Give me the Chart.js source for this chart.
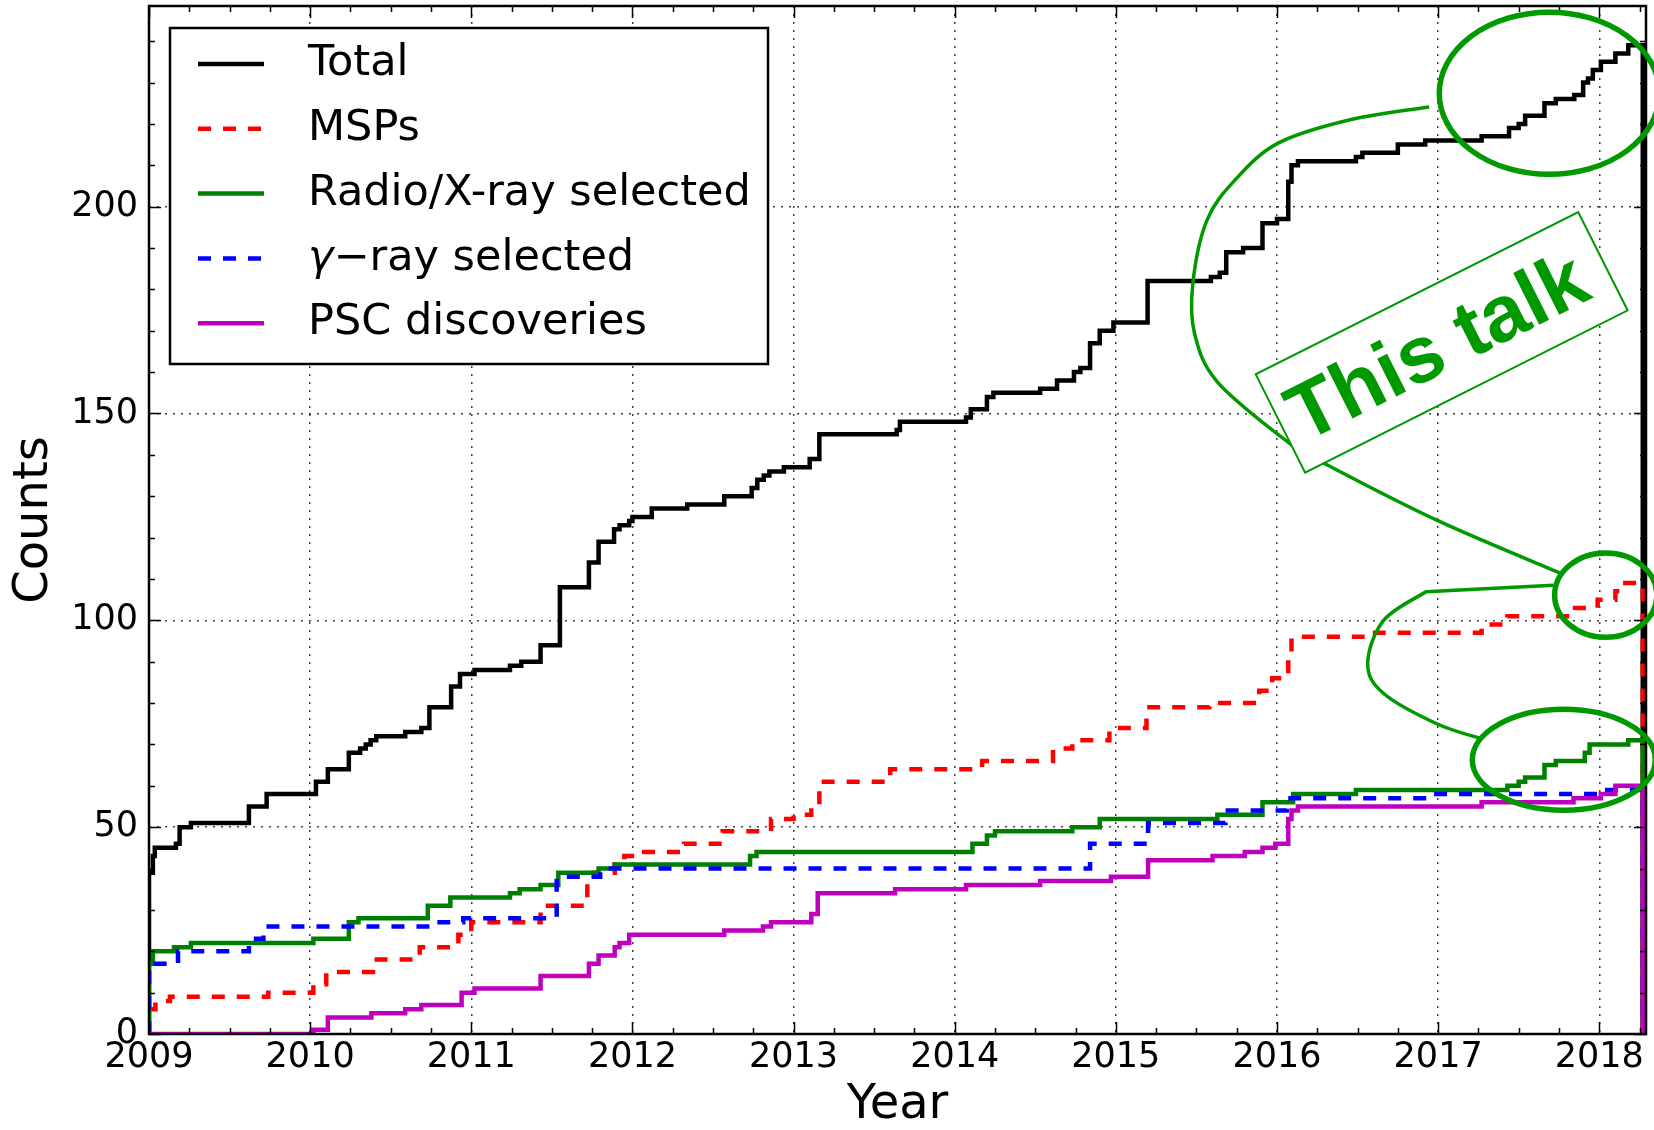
<!DOCTYPE html>
<html>
<head>
<meta charset="utf-8">
<title>Counts per year</title>
<script src="https://cdn.jsdelivr.net/npm/chart.js"></script>
<style>
  html, body { margin: 0; padding: 0; background: #fff; overflow: hidden; }
  #wrap { width: 1654px; height: 1130px; position: relative; }
</style>
</head>
<body>
<div id="wrap"><canvas id="countsChart"></canvas></div>
<script>
// step data: year of each step and the count after it
const totalYears = [2009.0, 2009.024, 2009.036, 2009.167, 2009.19, 2009.26, 2009.62, 2009.73, 2010.036, 2010.11,
  2010.24, 2010.31, 2010.345, 2010.375, 2010.41, 2010.59, 2010.69, 2010.74, 2010.875, 2010.93,
  2011.02, 2011.24, 2011.31, 2011.43, 2011.55, 2011.73, 2011.79, 2011.886, 2011.92, 2011.98,
  2012.0, 2012.12, 2012.34, 2012.57, 2012.74, 2012.775, 2012.815, 2012.85, 2012.94, 2013.1,
  2013.16, 2013.64, 2013.66, 2014.07, 2014.1, 2014.2, 2014.24, 2014.53, 2014.635, 2014.74,
  2014.78, 2014.84, 2014.9, 2014.985, 2015.197, 2015.59, 2015.645, 2015.685, 2015.79, 2015.91,
  2016.0, 2016.07, 2016.09, 2016.13, 2016.49, 2016.53, 2016.75, 2016.92, 2017.27, 2017.44,
  2017.5, 2017.54, 2017.66, 2017.73, 2017.845, 2017.9, 2017.93, 2017.96, 2018.01, 2018.1, 2018.18];
const totalCounts = [39, 43, 45, 46, 50, 51, 55, 58, 61, 64,
  68, 69, 70, 71, 72, 73, 74, 79, 84, 87,
  88, 89, 90, 94, 108, 114, 119, 122, 123, 124,
  125, 127, 128, 130, 132, 134, 135, 136, 137, 139,
  145, 146, 148, 149, 151, 154, 155, 156, 158, 160,
  161, 167, 170, 172, 182, 183, 184, 189, 190, 196,
  197, 206, 210, 211, 212, 213, 215, 216, 217, 219,
  220, 222, 225, 226, 227, 230, 231, 233, 235, 237, 239];

const mspYears = [2009.0, 2009.04, 2009.13, 2009.74, 2010.02, 2010.1, 2010.39, 2010.68, 2010.92, 2011.0,
  2011.43, 2011.72, 2011.76, 2011.89, 2011.95, 2012.04, 2012.32, 2012.56, 2012.86, 2013.0,
  2013.11, 2013.16, 2013.6, 2014.17, 2014.61, 2014.73, 2014.96, 2015.19, 2015.58, 2015.89,
  2015.97, 2016.07, 2016.09, 2016.53, 2017.27, 2017.43, 2017.85, 2017.99, 2018.1, 2018.14];
const mspCounts = [6, 8, 9, 10, 12, 15, 18, 21, 24, 27,
  31, 37, 39, 41, 43, 44, 46, 49, 52, 53,
  55, 61, 64, 66, 69, 71, 74, 79, 80, 83,
  86, 92, 96, 97, 99, 101, 103, 105, 107, 109];

const radioYears = [2009.0, 2009.024, 2009.155, 2009.26, 2010.02, 2010.24, 2010.3, 2010.73, 2010.87, 2011.24,
  2011.3, 2011.43, 2011.54, 2011.79, 2011.89, 2012.73, 2012.77, 2014.11, 2014.2, 2014.25,
  2014.73, 2014.9, 2015.63, 2015.91, 2016.1, 2016.49, 2017.43, 2017.5, 2017.54, 2017.66,
  2017.73, 2017.91, 2017.94, 2018.18];
const radioCounts = [17, 20, 21, 22, 23, 27, 28, 31, 33, 34,
  35, 36, 39, 40, 41, 43, 44, 46, 48, 49,
  50, 52, 53, 56, 58, 59, 60, 61, 62, 65,
  66, 68, 70, 71];

const gammaYears = [2009.0, 2009.18, 2009.62, 2009.71, 2010.78, 2010.95, 2011.53, 2011.8, 2014.84, 2015.2,
  2015.68, 2016.06, 2016.95, 2018.02];
const gammaCounts = [17, 20, 23, 26, 27, 28, 38, 40, 46, 51,
  54, 57, 58, 59];

const pscYears = [2009.0, 2010.02, 2010.11, 2010.38, 2010.59, 2010.69, 2010.94, 2011.02, 2011.43, 2011.73,
  2011.79, 2011.89, 2011.92, 2011.98, 2012.57, 2012.81, 2012.86, 2013.11, 2013.15, 2013.63,
  2014.07, 2014.53, 2014.97, 2015.2, 2015.6, 2015.8, 2015.91, 2015.99, 2016.07, 2016.09,
  2016.13, 2017.27, 2017.84, 2018.01, 2018.1];
const pscCounts = [0, 1, 4, 5, 6, 7, 10, 11, 14, 17,
  19, 21, 22, 24, 25, 26, 27, 29, 34, 35,
  36, 37, 38, 42, 43, 44, 45, 46, 52, 54,
  55, 56, 57, 58, 60];

const seriesLabels = ["Total", "MSPs", "Radio/X-ray selected", "γ−ray selected", "PSC discoveries"];
const yearTicks = [2009, 2010, 2011, 2012, 2013, 2014, 2015, 2016, 2017, 2018];
const countTicks = [0, 50, 100, 150, 200];

const START_YEAR = 2009;
const END_YEAR = 2018.27; // histogram closes back to zero here
const X_MAX = 2018.29;
const Y_MAX = 248.5;

// cumulative step histogram: start at 0, hold the last count, drop back to 0
function stepPoints(years, counts) {
  const pts = [{ x: START_YEAR, y: 0 }];
  years.forEach((yr, i) => pts.push({ x: yr, y: counts[i] }));
  pts.push({ x: END_YEAR, y: counts[counts.length - 1] });
  pts.push({ x: END_YEAR, y: 0 });
  return pts;
}

const DASH = [13, 12];
const FONT = "'DejaVu Sans', 'Liberation Sans', sans-serif";
const NOTE_GREEN = "#009900";

// spines and inward ticks on all four sides, like the matplotlib frame
const frameAndTicks = {
  id: "frameAndTicks",
  afterDatasetsDraw(chart) {
    const { ctx, chartArea: a, scales } = chart;
    const x = scales.x, y = scales.y;
    ctx.save();
    ctx.strokeStyle = "#000";
    ctx.lineWidth = 1.5;
    ctx.beginPath();
    for (let v = START_YEAR; v <= X_MAX + 1e-9; v += 0.25) {
      const px = Math.round(x.getPixelForValue(v)) + 0.5;
      const len = Math.abs(v - Math.round(v)) < 1e-6 ? 12 : 6;
      ctx.moveTo(px, a.bottom); ctx.lineTo(px, a.bottom - len);
      ctx.moveTo(px, a.top); ctx.lineTo(px, a.top + len);
    }
    for (let v = 0; v <= Y_MAX; v += 10) {
      const py = Math.round(y.getPixelForValue(v)) + 0.5;
      const len = v % 50 === 0 ? 12 : 6;
      ctx.moveTo(a.left, py); ctx.lineTo(a.left + len, py);
      ctx.moveTo(a.right, py); ctx.lineTo(a.right - len, py);
    }
    ctx.stroke();
    ctx.lineWidth = 2.5;
    ctx.strokeRect(a.left, a.top, a.right - a.left, a.bottom - a.top);
    ctx.restore();
  }
};

// legend box in the upper left corner of the axes
const insideLegend = {
  id: "insideLegend",
  afterDraw(chart) {
    const { ctx } = chart;
    const box = { left: 170, top: 28, width: 598, height: 336 };
    ctx.save();
    ctx.fillStyle = "#fff";
    ctx.fillRect(box.left, box.top, box.width, box.height);
    ctx.strokeStyle = "#000";
    ctx.lineWidth = 2.5;
    ctx.strokeRect(box.left, box.top, box.width, box.height);
    ctx.font = "43px " + FONT;
    ctx.textBaseline = "middle";
    chart.data.datasets.forEach((ds, i) => {
      const rowY = box.top + 36 + i * 64.8;
      ctx.beginPath();
      ctx.strokeStyle = ds.borderColor;
      ctx.lineWidth = 4.5;
      ctx.setLineDash(ds.borderDash || []);
      ctx.moveTo(198, rowY);
      ctx.lineTo(264, rowY);
      ctx.stroke();
      ctx.setLineDash([]);
      ctx.fillStyle = "#000";
      let tx = 308;
      let label = ds.label;
      if (label.startsWith("γ")) {
        ctx.font = "italic 43px " + FONT;
        ctx.fillText("γ", tx, rowY);
        tx += ctx.measureText("γ").width;
        ctx.font = "43px " + FONT;
        label = label.slice(1);
      }
      ctx.fillText(label, tx, rowY);
    });
    ctx.restore();
  }
};

// the hand-drawn "This talk" callout, placed in data units
const noteEllipses = [
  { x: 2017.69, y: 227.4, rx: 0.683, ry: 19.6 },
  { x: 2018.04, y: 106.1, rx: 0.317, ry: 10.2 },
  { x: 2017.78, y: 66.3, rx: 0.568, ry: 12.2 }
];
const noteUpperCurve = [
  [2016.944, 224.1], [2016.441, 220.9], [2016.004, 215.3], [2015.739, 206.4], [2015.565, 196.7],
  [2015.478, 181.5], [2015.488, 169.4], [2015.631, 157.6], [2016.068, 143.1], [2016.29, 138.0],
  [2016.991, 124.2], [2017.758, 111.4]
];
const noteLowerCurve = [
  [2017.716, 108.5], [2016.925, 106.9], [2016.662, 100.0], [2016.563, 89.5], [2016.662, 82.3],
  [2016.991, 75.0], [2017.266, 71.4]
];
const noteBox = { x: 2017.022, y: 167.2, width: 361, height: 110, angle: -26.7 };

function smoothThrough(ctx, pts) {
  for (let i = 0; i < pts.length - 1; i++) {
    const p0 = pts[i - 1] || pts[i], p1 = pts[i], p2 = pts[i + 1], p3 = pts[i + 2] || p2;
    ctx.bezierCurveTo(
      p1.x + (p2.x - p0.x) / 6, p1.y + (p2.y - p0.y) / 6,
      p2.x - (p3.x - p1.x) / 6, p2.y - (p3.y - p1.y) / 6,
      p2.x, p2.y);
  }
}

const thisTalkNote = {
  id: "thisTalkNote",
  afterDraw(chart) {
    const { ctx, scales } = chart;
    const x = scales.x, y = scales.y;
    const toPx = (p) => ({ x: x.getPixelForValue(p[0]), y: y.getPixelForValue(p[1]) });
    ctx.save();
    ctx.strokeStyle = NOTE_GREEN;

    ctx.lineWidth = 5.5;
    noteEllipses.forEach((e) => {
      const cx = x.getPixelForValue(e.x), cy = y.getPixelForValue(e.y);
      const rx = Math.abs(x.getPixelForValue(e.x + e.rx) - cx);
      const ry = Math.abs(y.getPixelForValue(e.y + e.ry) - cy);
      ctx.beginPath();
      ctx.ellipse(cx, cy, rx, ry, 0, 0, Math.PI * 2);
      ctx.stroke();
    });

    ctx.lineWidth = 3.5;
    const up = noteUpperCurve.map(toPx);
    ctx.beginPath();
    ctx.moveTo(up[0].x, up[0].y);
    smoothThrough(ctx, up);
    ctx.stroke();

    const low = noteLowerCurve.map(toPx);
    ctx.beginPath();
    ctx.moveTo(low[0].x, low[0].y);
    ctx.lineTo(low[1].x, low[1].y);
    smoothThrough(ctx, low.slice(1));
    ctx.stroke();

    const bx = x.getPixelForValue(noteBox.x), by = y.getPixelForValue(noteBox.y);
    ctx.translate(bx, by);
    ctx.rotate(noteBox.angle * Math.PI / 180);
    ctx.fillStyle = "#fff";
    ctx.fillRect(-noteBox.width / 2, -noteBox.height / 2, noteBox.width, noteBox.height);
    ctx.lineWidth = 2;
    ctx.strokeRect(-noteBox.width / 2, -noteBox.height / 2, noteBox.width, noteBox.height);
    ctx.fillStyle = NOTE_GREEN;
    ctx.font = "bold 80px 'Liberation Sans', Arial, sans-serif";
    ctx.textAlign = "center";
    ctx.textBaseline = "middle";
    ctx.fillText("This talk", -6, 6);
    ctx.restore();
  }
};

document.addEventListener("DOMContentLoaded", function () {
  const ctx = document.getElementById("countsChart").getContext("2d");

  new Chart(ctx, {
    type: "line",
    data: {
      datasets: [
        { label: seriesLabels[0], data: stepPoints(totalYears, totalCounts), borderColor: "#000000", order: 5 },
        { label: seriesLabels[1], data: stepPoints(mspYears, mspCounts), borderColor: "#ff0000", borderDash: DASH, order: 4 },
        { label: seriesLabels[2], data: stepPoints(radioYears, radioCounts), borderColor: "#008000", order: 3 },
        { label: seriesLabels[3], data: stepPoints(gammaYears, gammaCounts), borderColor: "#0000ff", borderDash: DASH, order: 2 },
        { label: seriesLabels[4], data: stepPoints(pscYears, pscCounts), borderColor: "#bf00bf", order: 1 }
      ].map((ds) => Object.assign({
        stepped: true,
        fill: false,
        borderWidth: 4.5,
        pointRadius: 0,
        pointHoverRadius: 0,
        borderCapStyle: "butt",
        borderJoinStyle: "miter"
      }, ds))
    },
    options: {
      responsive: true,
      maintainAspectRatio: false,
      animation: false,
      devicePixelRatio: 1,
      layout: { padding: { top: 6, right: 8, left: 0, bottom: 0 } },
      plugins: {
        legend: { display: false },
        tooltip: { enabled: false }
      },
      scales: {
        x: {
          type: "linear",
          min: START_YEAR,
          max: X_MAX,
          afterBuildTicks: (scale) => { scale.ticks = yearTicks.map((v) => ({ value: v })); },
          afterFit: (scale) => {
            scale.height = 96;
            scale.paddingLeft = 0;
            scale.paddingRight = 0;
          },
          ticks: {
            autoSkip: false,
            maxRotation: 0,
            padding: 3,
            color: "#000",
            font: { family: FONT, size: 35 },
            callback: (v) => String(v)
          },
          grid: {
            drawTicks: false,
            lineWidth: 1.5,
            color: (c) => (c.tick && c.tick.value === START_YEAR ? "rgba(0,0,0,0)" : "rgba(0,0,0,0.75)")
          },
          border: { display: false, dash: [2, 6] },
          title: {
            display: true,
            text: "Year",
            color: "#000",
            font: { family: FONT, size: 48, lineHeight: 1 },
            padding: { top: 0, bottom: 0 }
          }
        },
        y: {
          min: 0,
          max: Y_MAX,
          afterBuildTicks: (scale) => { scale.ticks = countTicks.map((v) => ({ value: v })); },
          afterFit: (scale) => {
            scale.width = 149;
            scale.paddingTop = 0;
            scale.paddingBottom = 0;
          },
          ticks: {
            padding: 11,
            color: "#000",
            font: { family: FONT, size: 35 },
            callback: (v) => String(v)
          },
          grid: {
            drawTicks: false,
            lineWidth: 1.5,
            color: (c) => (c.tick && c.tick.value === 0 ? "rgba(0,0,0,0)" : "rgba(0,0,0,0.75)")
          },
          border: { display: false, dash: [2, 6] },
          title: {
            display: true,
            text: "Counts",
            color: "#000",
            font: { family: FONT, size: 48, lineHeight: 1 },
            padding: { top: 11, bottom: 0 }
          }
        }
      }
    },
    plugins: [frameAndTicks, insideLegend, thisTalkNote]
  });
});
</script>
</body>
</html>
